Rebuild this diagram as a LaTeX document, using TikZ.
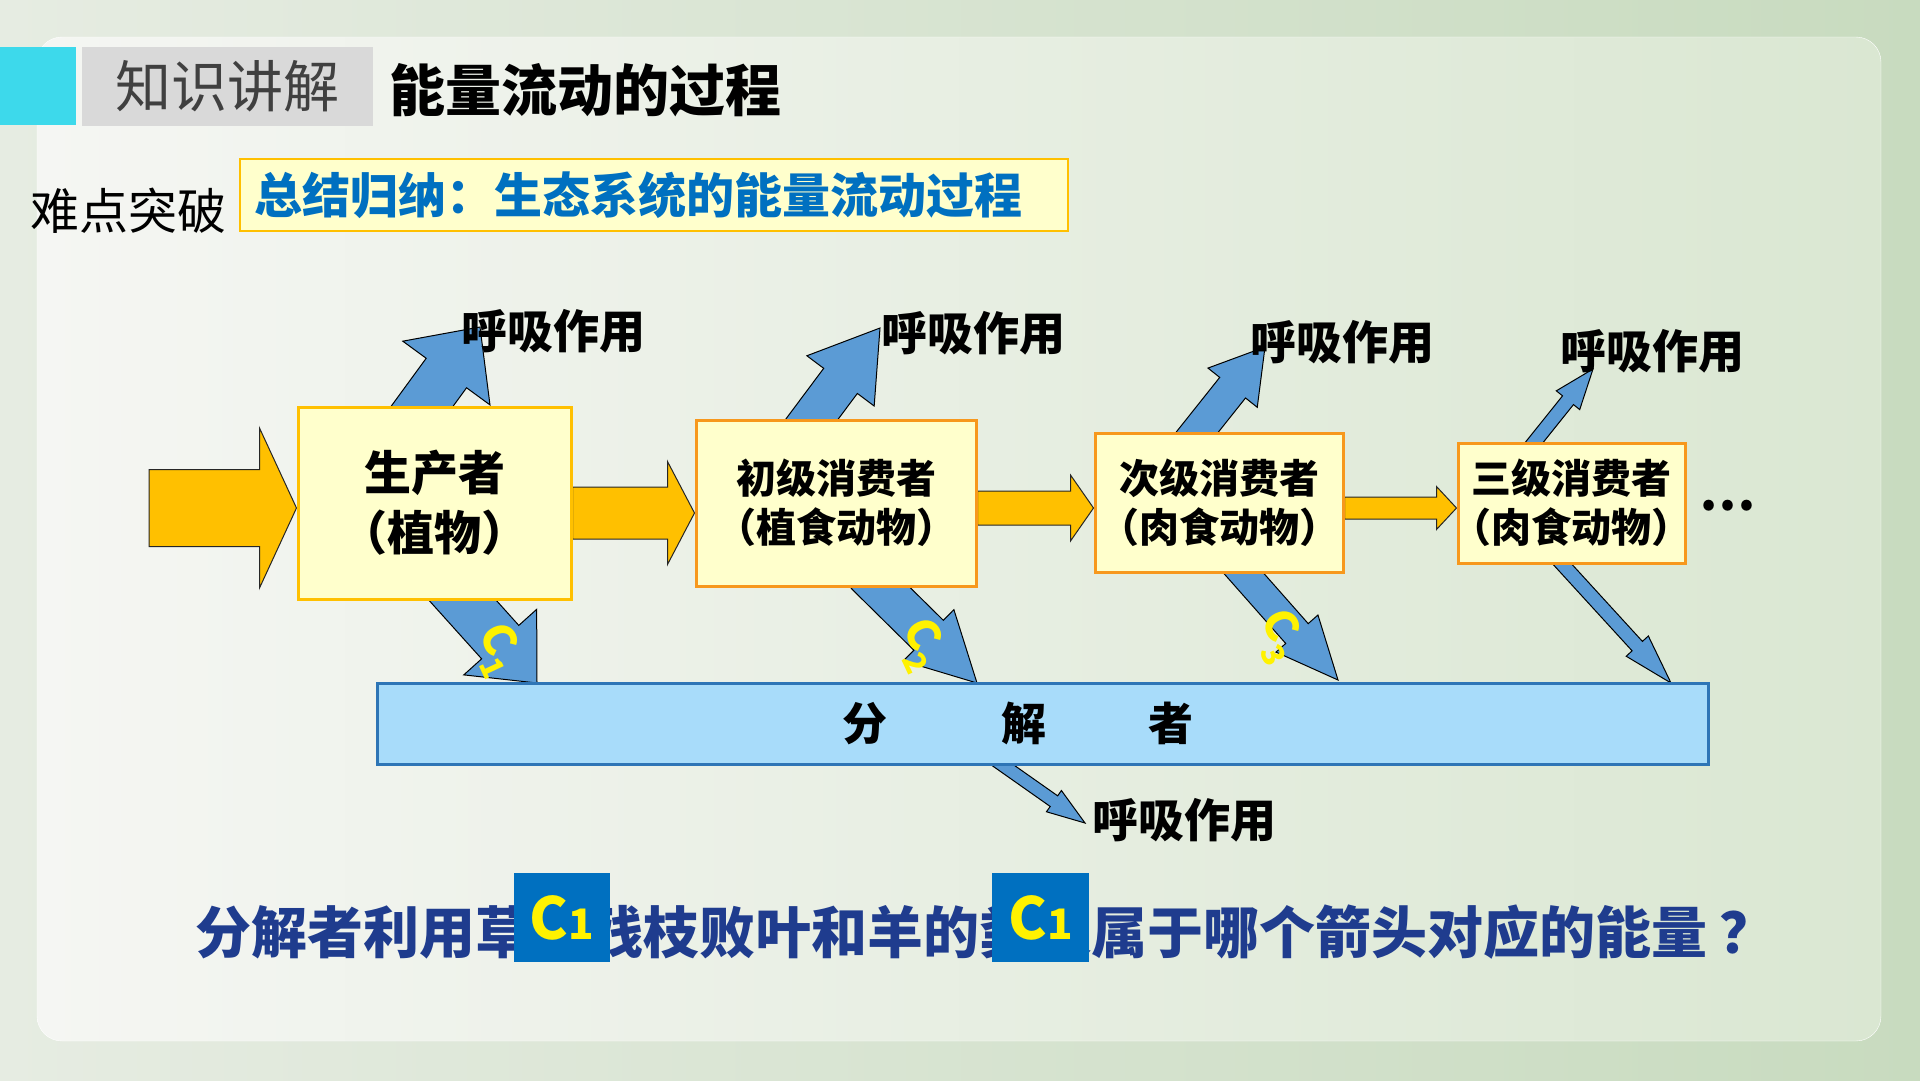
\documentclass[tikz,border=0pt]{standalone}
\usepackage{fontspec}
\setmainfont{Noto Sans CJK SC}
\usepackage{tikz}
\usetikzlibrary{calc,positioning}
\pgfdeclarelayer{back}
\pgfdeclarelayer{bg}
\pgfsetlayers{back,bg,main}
\definecolor{boxfill}{HTML}{FFFFCC}
\definecolor{prodline}{HTML}{FFC000}
\definecolor{consline}{HTML}{F7981D}
\definecolor{flowyellow}{HTML}{FFC000}
\definecolor{flowblue}{HTML}{5B9BD5}
\definecolor{decompfill}{HTML}{A8DCFA}
\definecolor{decompline}{HTML}{2E75B6}
\definecolor{headcyan}{HTML}{3DD9EB}
\definecolor{headgray}{HTML}{D9D9D9}
\definecolor{headtext}{HTML}{404040}
\definecolor{sumblue}{HTML}{0070C0}
\definecolor{asknavy}{HTML}{1F3C8E}
\definecolor{bgleft}{HTML}{E6ECE2}
\definecolor{bgright}{HTML}{C8DBBF}
\definecolor{panelleft}{HTML}{F5F6F3}
\definecolor{panelright}{HTML}{DAE7D2}
% fat block arrow: [style]{from}{to}{half shaft}{half head}{head length}
\newcommand\flowarrow[6][]{%
  \coordinate (fa-s) at #2;
  \coordinate (fa-e) at #3;
  \coordinate (fa-h) at ($(fa-e)!#6!(fa-s)$);
  \draw[#1] ($(fa-s)!#4!90:(fa-e)$) -- ($(fa-h)!#4!-90:(fa-s)$) -- ($(fa-h)!#5!-90:(fa-s)$) -- (fa-e)
    -- ($(fa-h)!#5!90:(fa-s)$) -- ($(fa-h)!#4!90:(fa-s)$) -- ($(fa-s)!#4!-90:(fa-e)$) -- cycle;}

\begin{document}
\begin{tikzpicture}[x=1pt,y=-1pt,
  box/.style={fill=boxfill,line width=3pt,inner sep=0pt,align=center,font=\bfseries\fontsize{40}{49}\selectfont},
  prodbox/.style={box,draw=prodline,font=\bfseries\fontsize{47}{60}\selectfont},
  consbox/.style={box,draw=consline},
  resp/.style={font=\bfseries\fontsize{46}{46}\selectfont,inner sep=0pt},
  clabel/.style={text=yellow,font=\bfseries\fontsize{44}{44}\selectfont,rotate=-65,inner sep=0pt},
  yellowarr/.style={fill=flowyellow,draw=black!85,line width=1pt},
  bluearr/.style={fill=flowblue,draw=black,line width=1pt},
  cbox/.style={fill=sumblue,text=yellow,minimum height=89pt,inner sep=0pt,font=\bfseries\fontsize{58}{58}\selectfont}]
\useasboundingbox (0,0) rectangle (1920,1080);
\begin{pgfonlayer}{back}
\shade[left color=bgleft,right color=bgright] (0,0) rectangle (1920,1080);
\shadedraw[left color=panelleft,right color=panelright,draw=white,rounded corners=25pt] (37,37) rectangle (1881,1041);
\end{pgfonlayer}

\fill[headcyan] (0,47) rectangle (76,125);
\node[fill=headgray,minimum width=291pt,minimum height=79pt,inner sep=0pt,text=headtext,font=\fontsize{56}{56}\selectfont] (sect) at (227.5,86.5) {知识讲解};
\node[anchor=west,inner sep=0pt,font=\bfseries\fontsize{56}{56}\selectfont] (title) at (389,90) {能量流动的过程};
\node[inner sep=0pt,font=\fontsize{49}{49}\selectfont] (hard) at (128.5,211) {难点突破};
\node[draw=prodline,line width=2pt,fill=boxfill,text width=800pt,inner xsep=14pt,inner ysep=0pt,minimum height=72pt,align=left,text=sumblue,font=\bfseries\fontsize{48}{48}\selectfont] (sum) at (654,195) {总结归纳：生态系统的能量流动过程};

\node[prodbox,minimum width=273pt,minimum height=192pt] (prod) at (434.5,503) {生产者\\（植物）};
\node[consbox,right=122pt of prod,minimum width=280pt,minimum height=166pt] (cons1) {初级消费者\\（植食动物）};
\node[consbox,right=116pt of cons1,minimum width=248pt,minimum height=139pt] (cons2) {次级消费者\\\kern-8pt（肉食动物）\kern-8pt};
\node[consbox,right=112pt of cons2,minimum width=227pt,minimum height=120pt] (cons3) {三级消费者\\\kern-16pt（肉食动物）\kern-16pt};
\node[right=13pt of cons3,yshift=-3pt,inner sep=0pt,font=\bfseries\fontsize{50}{50}\selectfont] (more) {…};
\node[fill=decompfill,draw=decompline,line width=3pt,minimum width=1331pt,minimum height=81pt,inner sep=0pt,font=\bfseries\fontsize{45}{45}\selectfont] (decomp) at (1042.5,723.5) {分\hspace{115pt}解\hspace{102pt}者\hspace{49pt}\mbox{}};

\node[resp] (resp1) at (553,331) {呼吸作用};
\node[resp] (resp2) at (973,333) {呼吸作用};
\node[resp] (resp3) at (1342.5,342) {呼吸作用};
\node[resp] (resp4) at (1652.5,351) {呼吸作用};
\node[resp] (resp5) at (1184,820) {呼吸作用};

\coordinate (sun) at (149,508);
\coordinate (r1) at (480,327);
\coordinate (r2) at (880,328);
\coordinate (r3) at (1265,347);
\coordinate (r4) at (1593,369);
\coordinate (r5) at (1085,823);
\coordinate (d1) at (537,683);
\coordinate (d2) at (977,683);
\coordinate (d3) at (1338,680);
\coordinate (d4) at (1671,683);

\begin{pgfonlayer}{bg}
\flowarrow[yellowarr]{(sun)}{([yshift=-5pt]prod.west)}{38.5pt}{80pt}{37pt}
\flowarrow[yellowarr]{([yshift=-10pt]prod.east)}{([yshift=-10pt]cons1.west)}{26pt}{51.5pt}{27pt}
\flowarrow[yellowarr]{([yshift=-5pt]cons1.east)}{([yshift=-5pt]cons2.west)}{17pt}{33pt}{23pt}
\flowarrow[yellowarr]{([yshift=-5pt]cons2.east)}{([yshift=-5pt]cons3.west)}{11pt}{21.5pt}{20pt}
\flowarrow[bluearr]{($(prod.north)+(-25,18)$)}{(r1)}{25pt}{54pt}{57pt}
\flowarrow[bluearr]{($(cons1.north)+(-37,18)$)}{(r2)}{21pt}{42pt}{66pt}
\flowarrow[bluearr]{($(cons2.north)+(-36,18)$)}{(r3)}{16.5pt}{31.5pt}{52pt}
\flowarrow[bluearr]{($(cons3.north)+(-47,13)$)}{(r4)}{7pt}{15pt}{40pt}
\flowarrow[bluearr]{($(prod.south)+(13,-17)$)}{(d1)}{25pt}{49pt}{55pt}
\flowarrow[bluearr]{($(cons1.south)+(30,-14)$)}{(d2)}{21pt}{36pt}{68pt}
\flowarrow[bluearr]{($(cons2.south)+(13,-14)$)}{(d3)}{15pt}{28pt}{62pt}
\flowarrow[bluearr]{($(cons3.south)+(-18,-10)$)}{(d4)}{7pt}{15pt}{50pt}
\flowarrow[bluearr]{($(decomp.south)+(-52,-9)$)}{(r5)}{6.5pt}{13pt}{38pt}
\end{pgfonlayer}

\node[clabel] (c1) at (498,650) {C\textsubscript{1}};
\node[clabel] (c2) at (921,645) {C\textsubscript{2}};
\node[clabel] (c3) at (1279,637) {C\textsubscript{3}};

\node[anchor=west,inner sep=0pt,text=asknavy,font=\bfseries\fontsize{56}{56}\selectfont] (ask) at (195,932) {分解者利用草的残枝败叶和羊的粪便属于哪个箭头对应的能量\hspace{12pt}？};
\node[cbox,minimum width=96pt] (ans1) at (562,917.5) {C{\fontsize{42}{42}\selectfont 1}};
\node[cbox,minimum width=97pt] (ans2) at (1040.5,917.5) {C{\fontsize{42}{42}\selectfont 1}};
\end{tikzpicture}
\end{document}
